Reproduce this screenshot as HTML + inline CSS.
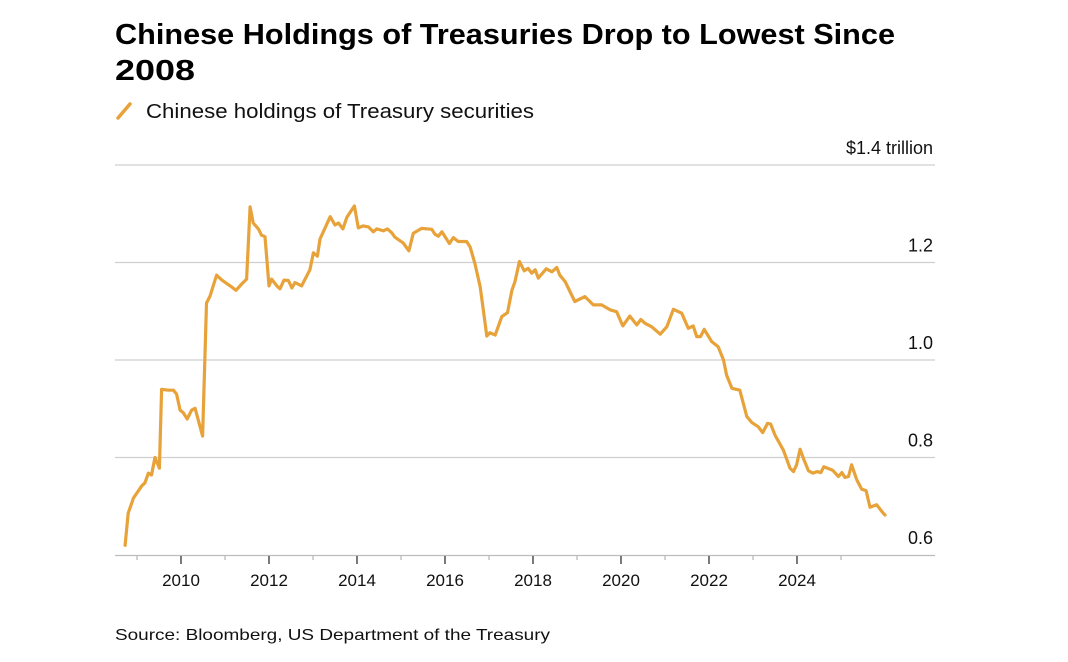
<!DOCTYPE html>
<html><head><meta charset="utf-8"><style>
html,body{margin:0;padding:0;background:#fff;}
svg{display:block;font-family:"Liberation Sans",Arial,sans-serif;}
</style></head><body>
<svg id="chart" width="1068" height="662" viewBox="0 0 1068 662" xmlns="http://www.w3.org/2000/svg">
<text x="115" y="44" font-size="29" font-weight="bold" fill="#000" textLength="780" lengthAdjust="spacingAndGlyphs">Chinese Holdings of Treasuries Drop to Lowest Since</text>
<text x="115" y="80" font-size="29" font-weight="bold" fill="#000" textLength="80" lengthAdjust="spacingAndGlyphs">2008</text>
<line x1="118" y1="118" x2="130" y2="104" stroke="#E8A23A" stroke-width="3.5" stroke-linecap="round"/>
<text x="146" y="118" font-size="20" fill="#111" textLength="388" lengthAdjust="spacingAndGlyphs">Chinese holdings of Treasury securities</text>
<g id="grid"></g>
<g id="ylabels"></g>
<g id="xaxis"></g>
<path id="series" fill="none" stroke="#E8A23A" stroke-width="3.2" stroke-linejoin="round" stroke-linecap="round"/>
<text x="115" y="640" font-size="16" fill="#111" textLength="435" lengthAdjust="spacingAndGlyphs">Source: Bloomberg, US Department of the Treasury</text>
</svg>
<script>
const years=[2008.73,2008.80,2008.92,2009.11,2009.18,2009.26,2009.33,2009.41,2009.51,2009.56,2009.71,2009.83,2009.90,2009.98,2010.05,2010.14,2010.24,2010.32,2010.49,2010.58,2010.66,2010.81,2010.93,2011.15,2011.25,2011.38,2011.49,2011.57,2011.64,2011.76,2011.83,2011.91,2012.00,2012.06,2012.18,2012.25,2012.34,2012.44,2012.52,2012.59,2012.74,2012.93,2013.01,2013.10,2013.16,2013.39,2013.50,2013.58,2013.68,2013.77,2013.94,2014.03,2014.14,2014.26,2014.37,2014.45,2014.60,2014.69,2014.79,2014.86,2015.05,2015.18,2015.28,2015.47,2015.70,2015.77,2015.85,2015.93,2016.10,2016.19,2016.30,2016.49,2016.57,2016.68,2016.80,2016.87,2016.95,2017.02,2017.14,2017.29,2017.42,2017.52,2017.59,2017.69,2017.80,2017.89,2017.97,2018.05,2018.12,2018.30,2018.43,2018.54,2018.61,2018.73,2018.95,2019.18,2019.37,2019.56,2019.75,2019.90,2020.04,2020.20,2020.36,2020.45,2020.55,2020.70,2020.89,2021.04,2021.19,2021.38,2021.53,2021.64,2021.72,2021.81,2021.89,2022.06,2022.21,2022.33,2022.40,2022.52,2022.70,2022.86,2022.97,2023.12,2023.22,2023.33,2023.40,2023.50,2023.69,2023.84,2023.92,2023.99,2024.07,2024.16,2024.26,2024.36,2024.46,2024.54,2024.61,2024.81,2024.94,2025.02,2025.09,2025.17,2025.24,2025.36,2025.47,2025.57,2025.66,2025.81,2025.96,2026.00];
const holdings=[0.620,0.686,0.717,0.742,0.748,0.768,0.764,0.800,0.778,0.940,0.938,0.938,0.930,0.897,0.892,0.879,0.897,0.901,0.844,1.117,1.131,1.174,1.164,1.150,1.143,1.156,1.166,1.314,1.281,1.269,1.256,1.253,1.152,1.166,1.152,1.146,1.164,1.163,1.148,1.159,1.152,1.185,1.220,1.213,1.248,1.294,1.277,1.281,1.269,1.293,1.316,1.271,1.275,1.273,1.263,1.269,1.265,1.269,1.261,1.252,1.240,1.224,1.260,1.270,1.268,1.258,1.254,1.263,1.239,1.251,1.243,1.243,1.232,1.198,1.150,1.103,1.049,1.056,1.051,1.089,1.097,1.143,1.161,1.202,1.183,1.188,1.178,1.185,1.168,1.187,1.181,1.190,1.174,1.161,1.120,1.130,1.113,1.113,1.103,1.099,1.070,1.090,1.072,1.083,1.075,1.068,1.053,1.068,1.104,1.096,1.065,1.070,1.048,1.048,1.063,1.038,1.027,1.000,0.969,0.942,0.938,0.884,0.872,0.863,0.851,0.870,0.869,0.846,0.815,0.778,0.771,0.785,0.817,0.795,0.773,0.768,0.771,0.769,0.781,0.774,0.761,0.769,0.759,0.761,0.785,0.754,0.735,0.732,0.698,0.703,0.686,0.682];
const yTicks=[0.6,0.8,1.0,1.2,1.4];
const yTickLabels=["0.6","0.8","1.0","1.2","$1.4 trillion"];
const xTickYears=[2009,2010,2011,2012,2013,2014,2015,2016,2017,2018,2019,2020,2021,2022,2023,2024,2025];
const xLabelYears=[2010,2012,2014,2016,2018,2020,2022,2024];

const NS="http://www.w3.org/2000/svg";
const X=y=>181+(y-2010)*44;
const Y=v=>555-(v-0.6)*487.5;
function mk(tag,attrs,parent){const e=document.createElementNS(NS,tag);for(const k in attrs)e.setAttribute(k,attrs[k]);parent.appendChild(e);return e;}
const grid=document.getElementById('grid'),yl=document.getElementById('ylabels'),xa=document.getElementById('xaxis');
yTicks.forEach((v,i)=>{
  if(i>0){const l=mk('line',{x1:115,x2:935,y1:Y(v),y2:Y(v),stroke:'#cfcfcf','stroke-width':1.3},grid);
  
  }
  const t=mk('text',{x:933,y:Y(v)-11,'font-size':18,'text-anchor':'end',fill:'#111'},yl);
  t.textContent=yTickLabels[i];
  
  
});
const ax=mk('line',{x1:115,x2:935,y1:555.5,y2:555.5,stroke:'#bdbdbd','stroke-width':1.3},xa);


xTickYears.forEach(yr=>{
  const major=yr%2===0;
  const tk=mk('line',{x1:X(yr),x2:X(yr),y1:556,y2:major?564:560,stroke:major?'#333':'#bbb','stroke-width':1.3},xa);
  
  
});
xLabelYears.forEach(yr=>{
  const t=mk('text',{x:X(yr),y:586,'font-size':17,'text-anchor':'middle',fill:'#111'},xa);
  t.textContent=String(yr);
  
  
});
document.getElementById('series').setAttribute('d',years.map((yr,i)=>(i?'L':'M')+X(yr).toFixed(1)+','+Y(holdings[i]).toFixed(1)).join(''));
</script>
</body></html>
